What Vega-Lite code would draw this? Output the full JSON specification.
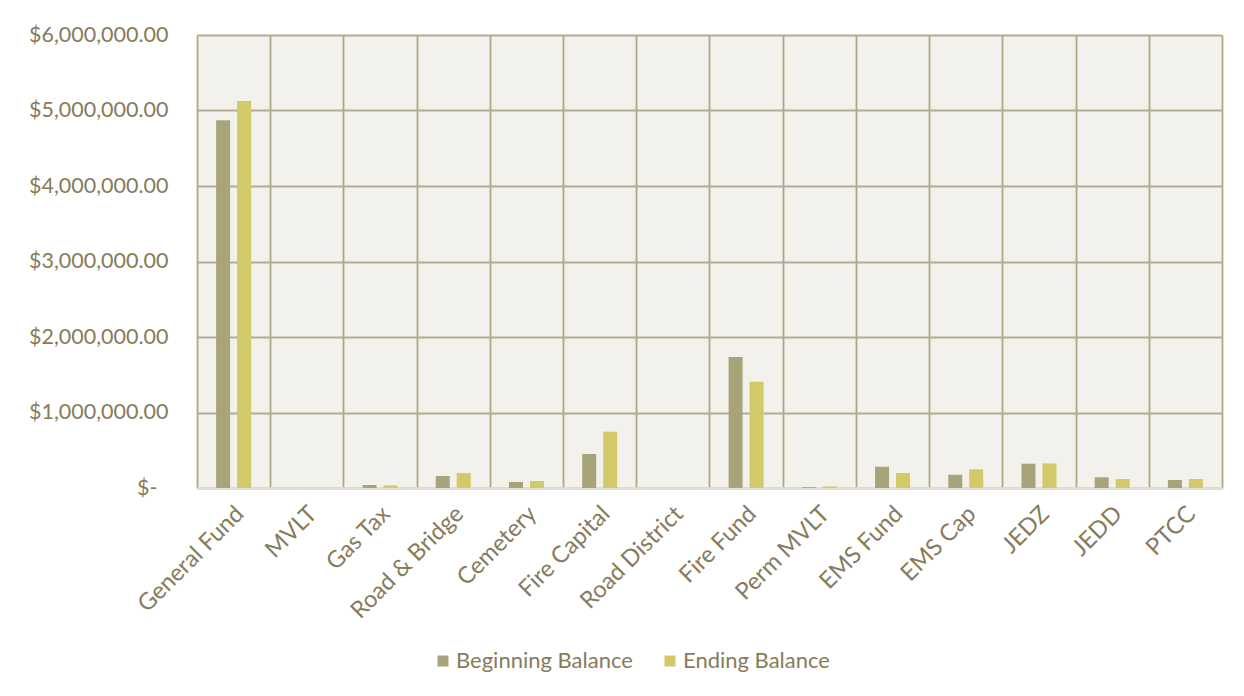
{
  "$schema": "https://vega.github.io/schema/vega-lite/v6.json",
  "autosize": "none",
  "width": 1025,
  "height": 453,
  "padding": {"left": 197, "top": 35, "right": 22, "bottom": 208},
  "background": "white",
  "config": {
    "font": "Lato",
    "view": {"fill": "#f3f1ec", "stroke": null},
    "axis": {"labelColor": "#877b5b", "labelFont": "Lato", "titleColor": "#877b5b"},
    "legend": {"labelColor": "#877b5b", "labelFont": "Lato"}
  },
  "data": {
    "values": [
      {"fund": "General Fund", "type": "Beginning Balance", "value": 4870000},
      {"fund": "General Fund", "type": "Ending Balance", "value": 5125000},
      {"fund": "MVLT", "type": "Beginning Balance", "value": 0},
      {"fund": "MVLT", "type": "Ending Balance", "value": 0},
      {"fund": "Gas Tax", "type": "Beginning Balance", "value": 40000},
      {"fund": "Gas Tax", "type": "Ending Balance", "value": 35000},
      {"fund": "Road & Bridge", "type": "Beginning Balance", "value": 159000},
      {"fund": "Road & Bridge", "type": "Ending Balance", "value": 199000},
      {"fund": "Cemetery", "type": "Beginning Balance", "value": 80000},
      {"fund": "Cemetery", "type": "Ending Balance", "value": 93000},
      {"fund": "Fire Capital", "type": "Beginning Balance", "value": 450000},
      {"fund": "Fire Capital", "type": "Ending Balance", "value": 746000},
      {"fund": "Road District", "type": "Beginning Balance", "value": 0},
      {"fund": "Road District", "type": "Ending Balance", "value": 0},
      {"fund": "Fire Fund", "type": "Beginning Balance", "value": 1735000},
      {"fund": "Fire Fund", "type": "Ending Balance", "value": 1408000},
      {"fund": "Perm MVLT", "type": "Beginning Balance", "value": 10000},
      {"fund": "Perm MVLT", "type": "Ending Balance", "value": 20000},
      {"fund": "EMS Fund", "type": "Beginning Balance", "value": 282000},
      {"fund": "EMS Fund", "type": "Ending Balance", "value": 199000},
      {"fund": "EMS Cap", "type": "Beginning Balance", "value": 176000},
      {"fund": "EMS Cap", "type": "Ending Balance", "value": 248000},
      {"fund": "JEDZ", "type": "Beginning Balance", "value": 322000},
      {"fund": "JEDZ", "type": "Ending Balance", "value": 325000},
      {"fund": "JEDD", "type": "Beginning Balance", "value": 142000},
      {"fund": "JEDD", "type": "Ending Balance", "value": 119000},
      {"fund": "PTCC", "type": "Beginning Balance", "value": 106000},
      {"fund": "PTCC", "type": "Ending Balance", "value": 119000}
    ]
  },
  "mark": {"type": "bar"},
  "encoding": {
    "x": {
      "field": "fund",
      "type": "nominal",
      "sort": ["General Fund", "MVLT", "Gas Tax", "Road & Bridge", "Cemetery", "Fire Capital", "Road District", "Fire Fund", "Perm MVLT", "EMS Fund", "EMS Cap", "JEDZ", "JEDD", "PTCC"],
      "scale": {"paddingInner": 0, "paddingOuter": 0},
      "axis": {
        "title": null,
        "labelAngle": -45,
        "labelAlign": "right",
        "labelBaseline": "middle",
        "labelFontSize": 23.5,
        "labelPadding": 22,
        "labelOffset": 6,
        "labelLimit": 0,
        "ticks": false,
        "tickBand": "extent",
        "grid": true,
        "gridColor": "#ada781",
        "gridWidth": 1.75,
        "domain": true,
        "domainColor": "#e3dfd5",
        "domainWidth": 2.5
      }
    },
    "xOffset": {
      "field": "type",
      "type": "nominal",
      "scale": {"paddingInner": 0.333, "paddingOuter": 0.91}
    },
    "y": {
      "field": "value",
      "type": "quantitative",
      "scale": {"domain": [0, 6000000]},
      "axis": {
        "title": null,
        "values": [0, 1000000, 2000000, 3000000, 4000000, 5000000, 6000000],
        "labelExpr": "datum.value == 0 ? '$-' : '$' + format(datum.value, ',.2f')",
        "labelFontSize": 21.5,
        "labelPadding": {"condition": {"test": "datum.value == 0", "value": 40}, "value": 29},
        "labelLimit": 0,
        "ticks": false,
        "domain": false,
        "grid": true,
        "gridColor": "#b5ab94",
        "gridWidth": 2
      }
    },
    "color": {
      "field": "type",
      "type": "nominal",
      "scale": {"domain": ["Beginning Balance", "Ending Balance"], "range": ["#a8a47a", "#d2c96a"]},
      "legend": {
        "title": null,
        "orient": "none",
        "direction": "horizontal",
        "legendX": 235,
        "legendY": 615,
        "symbolType": "square",
        "symbolSize": 121,
        "symbolStrokeWidth": 0,
        "labelFontSize": 22,
        "labelOffset": 2,
        "labelLimit": 0,
        "columnPadding": 26
      }
    }
  }
}
